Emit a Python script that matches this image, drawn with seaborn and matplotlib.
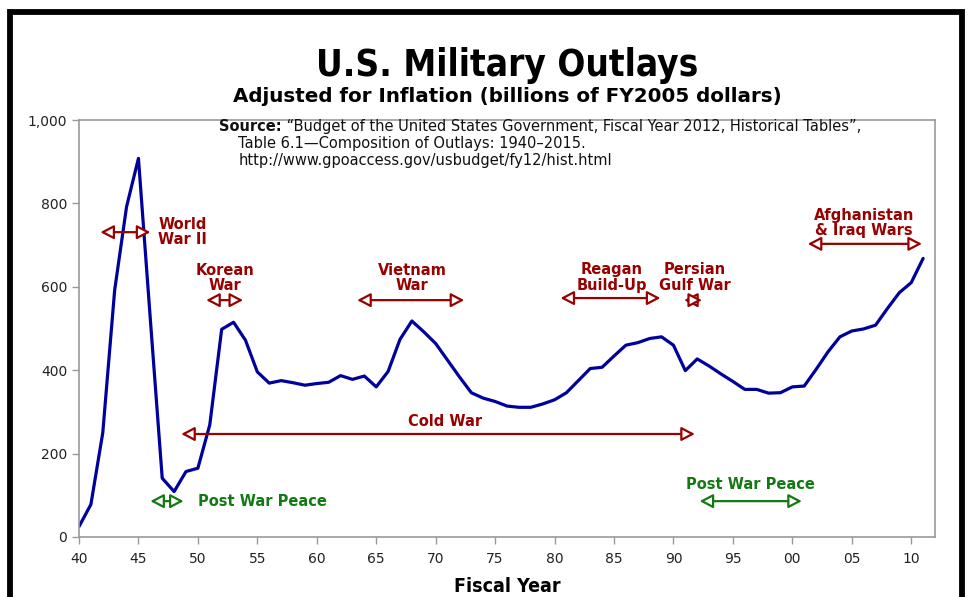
import pandas as pd
import matplotlib.pyplot as plt
import seaborn as sns
from matplotlib.patches import FancyArrowPatch, Rectangle
from matplotlib.ticker import FuncFormatter

# Outlays, billions of FY2005 dollars
years = list(range(1940, 2012))
outlays = [25, 78, 250, 592, 792, 908, 522, 141, 109, 157,
           165, 269, 498, 515, 472, 396, 369, 375, 370, 364,
           368, 371, 387, 378, 386, 360, 397, 474, 518, 492,
           464, 424, 384, 346, 333, 325, 314, 311, 311, 319,
           329, 346, 375, 404, 407, 434, 460, 466, 476, 480,
           460, 399, 427, 410, 391, 373, 354, 354, 345, 346,
           360, 362, 402, 444, 480, 494, 499, 508, 548, 586,
           610, 668]

x_ticks = list(range(1940, 2011, 5))
x_tick_labels = [f"{y % 100:02d}" for y in x_ticks]
y_ticks = list(range(0, 1001, 200))

# war / peace periods: label, arrow start, arrow end
periods = ["World\nWar II", "Korean\nWar", "Vietnam\nWar", "Reagan\nBuild-Up",
           "Persian\nGulf War", "Afghanistan\n& Iraq Wars", "Cold War",
           "Post War Peace", "Post War Peace"]
period_start = [1941.8, 1950.7, 1963.4, 1980.5, 1990.9, 2001.3, 1948.6, 1946.0, 1992.2]
period_end = [1946.0, 1953.8, 1972.4, 1988.9, 1992.4, 2010.9, 1991.8, 1948.8, 2000.8]

red = "#990000"
green = "#137a13"
navy = "#00009c"

df = pd.DataFrame({"year": years, "outlays": outlays})

sns.set_style("white")
plt.rcParams['font.family'] = ['DejaVu Sans']
plt.rcParams['text.color'] = 'black'

fig = plt.figure(figsize=(9.68, 5.97), dpi=100)
ax = fig.add_axes([79 / 968, 1 - 537 / 597, (935 - 79) / 968, (537 - 120) / 597])

sns.lineplot(data=df, x="year", y="outlays", ax=ax, color=navy, linewidth=2.3)

ax.set_xlim(1940, 2012)
ax.set_ylim(0, 1000)
ax.set_xticks(x_ticks)
ax.set_xticklabels(x_tick_labels)
ax.set_yticks(y_ticks)
ax.yaxis.set_major_formatter(FuncFormatter(lambda v, p: f"{int(v):,}"))
ax.tick_params(axis='both', direction='out', length=5, width=1, color='#999999',
               labelsize=10, labelcolor='#222222', bottom=True, left=True)
ax.tick_params(axis='x', pad=6)
for s in ax.spines.values():
    s.set_color('#999999')
    s.set_linewidth(1.2)
ax.set_xlabel("Fiscal Year", fontsize=14, fontweight='bold', labelpad=8,
              fontstretch='condensed', color='black')
ax.set_ylabel("")

# period arrows + labels
def period_arrow(x0, x1, y, color):
    arr = FancyArrowPatch((x0, y), (x1, y), arrowstyle='<|-|>,head_length=0.8,head_width=0.42',
                          mutation_scale=10, fc='white', ec=color, lw=1.6,
                          shrinkA=0, shrinkB=0, zorder=4)
    ax.add_patch(arr)

label_pos = [(1948.7, 731), (1952.3, 621), (1968.0, 621), (1984.8, 623),
             (1991.8, 623), (2006.0, 753), (1970.8, 276), (1950.0, 86), (1996.5, 125)]
arrow_y = [731, 568, 568, 573, 568, 703, 247, 86, 86]
colors = [red] * 7 + [green] * 2

for i, lab in enumerate(periods):
    period_arrow(period_start[i], period_end[i], arrow_y[i], colors[i])
    lx, ly = label_pos[i]
    ha = 'left' if i == 7 else 'center'
    ax.text(lx, ly, lab, ha=ha, va='center', color=colors[i], fontsize=10.5,
            fontweight='bold', linespacing=1.05, zorder=5)

# source note
src = ax.text(0.1636, 0.974, "Source:", transform=ax.transAxes, fontsize=10.5,
              fontweight='bold', va='baseline', ha='left', color='#111111')
ax.annotate(" \u201cBudget of the United States Government, Fiscal Year 2012, Historical Tables\u201d,",
            xy=(1, 0), xycoords=src, fontsize=10.5, va='bottom', ha='left', color='#111111')
ax.text(0.186, 0.933, "Table 6.1\u2014Composition of Outlays: 1940\u20132015.",
        transform=ax.transAxes, fontsize=10.5, va='baseline', ha='left', color='#111111')
ax.text(0.186, 0.892, "http://www.gpoaccess.gov/usbudget/fy12/hist.html",
        transform=ax.transAxes, fontsize=10.5, va='baseline', ha='left', color='#111111')

# titles
fig.text(0.524, 1 - 66 / 597, "U.S. Military Outlays", ha='center', va='center',
         fontsize=26.5, fontweight='bold', fontstretch='condensed')
fig.text(0.524, 1 - 96 / 597, "Adjusted for Inflation (billions of FY2005 dollars)",
         ha='center', va='center', fontsize=14.3, fontweight='bold')

# black frame around the chart (bottom edge falls off the image)
fig.add_artist(Rectangle((9.5 / 968, -0.1), (962 - 9.5) / 968, 1.1 - 11.5 / 597,
                         transform=fig.transFigure, fill=False, ec='black', lw=4.2))

fig.savefig("out.png", dpi=100)
